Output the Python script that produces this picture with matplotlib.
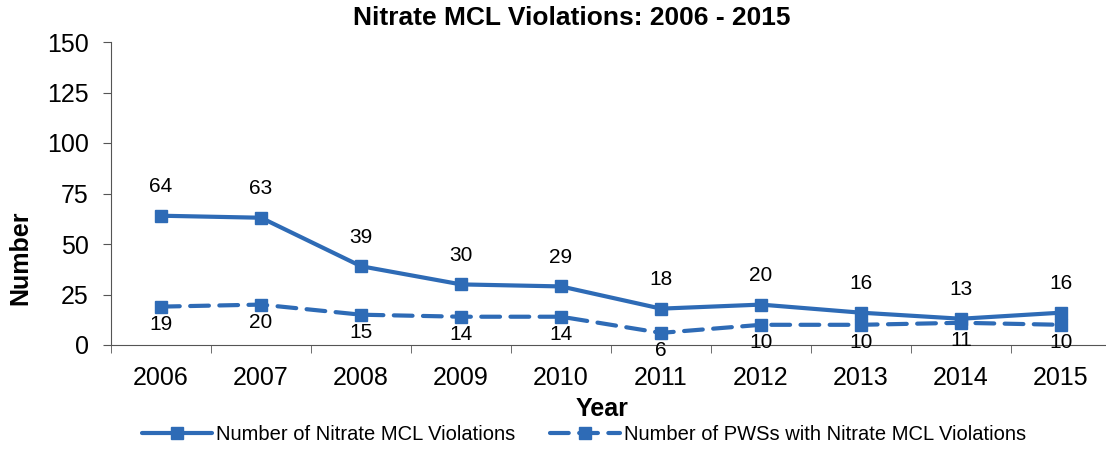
import matplotlib
matplotlib.use("Agg")
import matplotlib.pyplot as plt
import numpy as np
from matplotlib.ticker import FixedLocator

plt.rcParams['font.family'] = ['Liberation Sans', 'DejaVu Sans']

years = ['2006', '2007', '2008', '2009', '2010', '2011', '2012', '2013', '2014', '2015']
violations = [64, 63, 39, 30, 29, 18, 20, 16, 13, 16]
pws_violations = [19, 20, 15, 14, 14, 6, 10, 10, 11, 10]
y_ticks = [0, 25, 50, 75, 100, 125, 150]

blue = '#2E6BB6'
W, H = 1106, 449
fig = plt.figure(figsize=(W / 100, H / 100), dpi=100)
ax = fig.add_axes([111 / W, (H - 345) / H, 1000 / W, 303 / H])

x = np.arange(len(years))
ax.plot(x, violations, color=blue, lw=3, marker='s', ms=9,
        solid_capstyle='round', label='Number of Nitrate MCL Violations')
ax.plot(x, pws_violations, color=blue, lw=3, marker='s', ms=9,
        ls=(0, (4.5, 2.5)), dash_capstyle='round',
        label='Number of PWSs with Nitrate MCL Violations')

for xi, v in zip(x, violations):
    ax.annotate(str(v), (xi, v), xytext=(0, 21), textcoords='offset points',
                ha='center', va='center', fontsize=15)
for xi, v in zip(x, pws_violations):
    ax.annotate(str(v), (xi, v), xytext=(0, -13), textcoords='offset points',
                ha='center', va='center', fontsize=15)

ax.set_xlim(-0.5, len(years) - 0.5)
ax.set_ylim(0, 150)
ax.set_yticks(y_ticks)
ax.tick_params(axis='y', labelsize=18, length=6, pad=10, color='#555555')
ax.set_xticks(x)
ax.set_xticklabels(years)
ax.tick_params(axis='x', which='major', length=0, labelsize=18, pad=15)
ax.xaxis.set_minor_locator(FixedLocator(np.arange(-0.5, len(years), 1.0)))
ax.tick_params(axis='x', which='minor', length=6, color='#555555')

for s in ['top', 'right']:
    ax.spines[s].set_visible(False)
ax.spines['left'].set_color('#555555')
ax.spines['bottom'].set_color('#555555')

ax.set_ylabel('Number', fontsize=18, fontweight='bold', va='center')
ax.yaxis.set_label_coords(-0.091, 0.287)
ax.set_xlabel('Year', fontsize=18, fontweight='bold', va='center')
ax.xaxis.set_label_coords(0.491, -0.211)
fig.text(572 / W, 1 - 18 / H, 'Nitrate MCL Violations: 2006 - 2015',
         ha='center', va='center', fontsize=19, fontweight='bold')

fig.legend(loc='center', bbox_to_anchor=(584 / W, 1 - 435 / H), ncol=2,
           frameon=False, fontsize=14.5, handlelength=3.5, columnspacing=1.7,
           handletextpad=0.2, borderaxespad=0)

fig.savefig('out.png', dpi=100)
